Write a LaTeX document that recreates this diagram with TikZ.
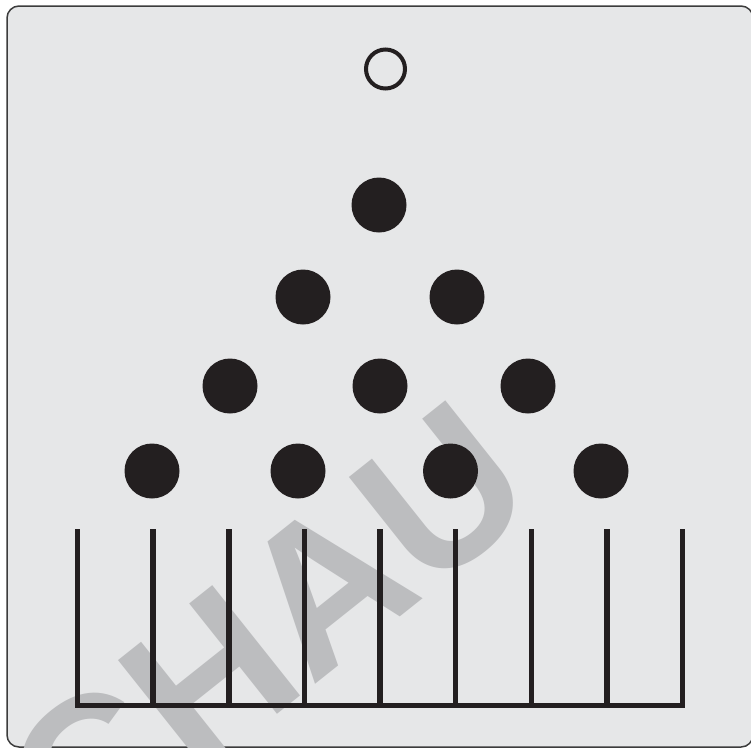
\documentclass[tikz,border=0pt]{standalone}
\usepackage{fontspec}
\newfontfamily\wmfont{Liberation Sans}
\definecolor{bg}{HTML}{E6E7E8}
\definecolor{ink}{HTML}{231F20}
\definecolor{frame}{HTML}{3C3C3C}
\definecolor{wmgray}{HTML}{BCBDBF}
\begin{document}
\begin{tikzpicture}[x=1pt,y=-1pt,
  dot/.style={circle,fill=ink,minimum size=55pt,inner sep=0pt},
  ring/.style={circle,draw=ink,line width=4pt,minimum size=39pt,inner sep=0pt},
  tray/.style={draw=ink,line width=5.5pt,line join=miter},
  watermark/.style={text=wmgray,inner sep=0pt,anchor=base,rotate=38.5,
    font=\wmfont\bfseries\fontsize{205}{205}\selectfont}]
\useasboundingbox (0,0) rectangle (751,747);
\fill[white] (0,0) rectangle (751,747);
\begin{scope}
\clip (0,0) rectangle (751,747);
\draw[fill=bg,draw=frame,line width=1.5pt,rounded corners=12pt] (7,6) rectangle (753,747);
\node[watermark] (wm) at (258,730) {SCHAU};
\end{scope}
% open circle
\node[ring] (top) at (385.5,69) {};
% dots
\node[dot] (r1a) at (379,205) {};
\node[dot] (r2a) at (303,297) {};
\node[dot] (r2b) at (457,297) {};
\node[dot] (r3a) at (230,386) {};
\node[dot] (r3b) at (380,386) {};
\node[dot] (r3c) at (528,386) {};
\node[dot] (r4a) at (152,471) {};
\node[dot] (r4b) at (298,471) {};
\node[dot] (r4c) at (450.5,471) {};
\node[dot] (r4d) at (601,471) {};
% tray
\coordinate (tl) at (77.5,529);
\coordinate (bl) at (77.5,705.5);
\coordinate (br) at (682.5,705.5);
\coordinate (tr) at (682.5,529);
\draw[tray] (tl) -- (bl) -- (br) -- (tr);
\foreach \i/\x in {1/153.1,2/228.75,3/304.4,4/380,5/455.6,6/531.25,7/606.9}{
  \coordinate (s\i t) at (\x,529);
  \coordinate (s\i b) at (\x,705.5);
  \draw[tray] (s\i t) -- (s\i b);
}
\end{tikzpicture}
\end{document}
